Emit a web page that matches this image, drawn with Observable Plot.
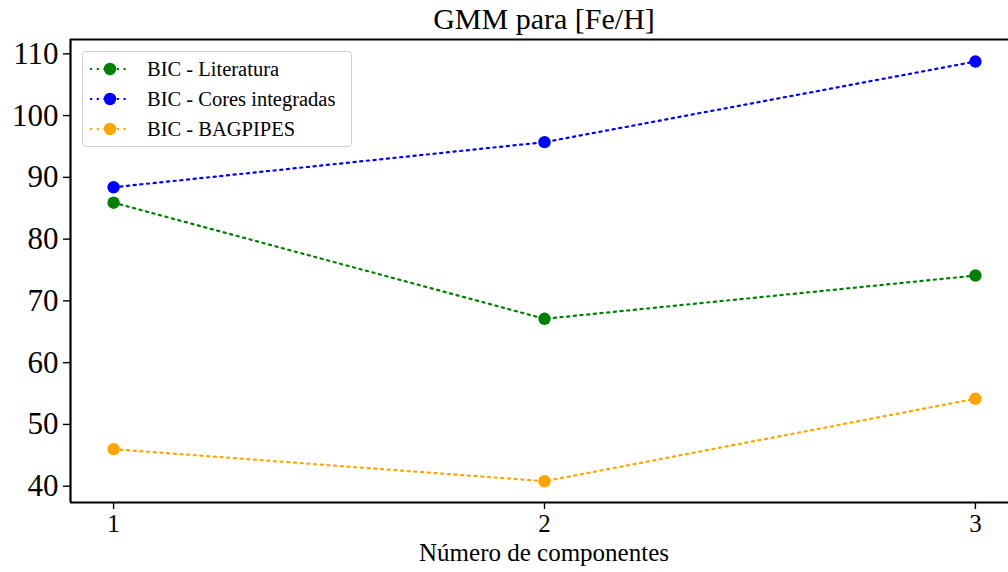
<!DOCTYPE html>
<html><head><meta charset="utf-8">
<script src="https://cdn.jsdelivr.net/npm/d3@7"></script>
<script src="https://cdn.jsdelivr.net/npm/@observablehq/plot@0.6"></script>
<style>
body{margin:0;background:#fff;font-family:"Liberation Serif",serif;color:#000;}
#wrap, #wrap *{font-family:"Liberation Serif",serif !important;}
#wrap svg text{font-family:"Liberation Serif",serif !important;}
#wrap{position:relative;width:1008px;height:572px;overflow:hidden;background:#fff;}
#title{position:absolute;left:70px;width:948px;top:2px;text-align:center;font-size:30px;line-height:34px;}
#chart{position:absolute;left:0;top:37px;}
#xlabel{position:absolute;left:70px;width:948px;top:538px;text-align:center;font-size:25px;line-height:30px;}
#legend{position:absolute;left:82px;top:51px;width:270px;height:96px;border:1px solid #d0d0d0;border-radius:4px;background:rgba(255,255,255,0.8);box-sizing:border-box;padding-top:2px;}
.row{display:flex;align-items:center;height:30px;font-size:20.5px;}
.row svg{margin-left:6px;margin-right:16px;}
</style>
</head><body>
<div id="wrap">
  <div id="title">GMM para [Fe/H]</div>
  <div id="chart"></div>
  <div id="xlabel">Número de componentes</div>
  <div id="legend"></div>
</div>
<script>
const components = [1, 2, 3];
const bicLiteratura = [85.9, 67.1, 74.1];
const bicCoresIntegradas = [88.4, 95.7, 108.75];
const bicBagpipes = [46.0, 40.8, 54.15];
const seriesNames = ["BIC - Literatura", "BIC - Cores integradas", "BIC - BAGPIPES"];
const seriesColors = ["green", "blue", "orange"];
const yTicks = [40, 50, 60, 70, 80, 90, 100, 110];
const xTicks = [1, 2, 3];
const xDomain = [0.9, 3.1];
const yDomain = [37.36, 112.32];

const seriesValues = [bicLiteratura, bicCoresIntegradas, bicBagpipes];
const data = [];
seriesNames.forEach((s, i) => components.forEach((c, j) => data.push({series: s, x: c, y: seriesValues[i][j]})));

const chart = Plot.plot({
  width: 1008, height: 535,
  marginTop: 2, marginBottom: 70, marginLeft: 70, marginRight: 0,
  style: {fontFamily: "Liberation Serif, serif", background: "white", color: "black"},
  x: {domain: xDomain, range: [70, 1018]},
  y: {domain: yDomain},
  color: {domain: seriesNames, range: seriesColors},
  marks: [
    Plot.line(data, {x: "x", y: "y", z: "series", stroke: "series", strokeWidth: 2.2, strokeDasharray: "2.2,4.5"}),
    Plot.dot(data, {x: "x", y: "y", fill: "series", r: 6.2}),
    Plot.ruleX([xDomain[0]], {strokeWidth: 2.2}),
    Plot.ruleY(yDomain, {strokeWidth: 2.2}),
    Plot.axisY({ticks: yTicks, tickSize: 7, tickPadding: 5, fontSize: 31, label: null, strokeWidth: 1.4}),
    Plot.axisX({ticks: xTicks, tickSize: 7, tickPadding: 5, fontSize: 25, label: null, tickFormat: d3.format("d"), strokeWidth: 1.4})
  ]
});
document.getElementById("chart").appendChild(chart);

const legend = document.getElementById("legend");
seriesNames.forEach((s, i) => {
  const row = document.createElement("div");
  row.className = "row";
  row.innerHTML = `<svg width="42" height="14"><line x1="1" y1="7" x2="41" y2="7" stroke="${seriesColors[i]}" stroke-width="2.2" stroke-dasharray="2.2,4.5"/><circle cx="21" cy="7" r="6.2" fill="${seriesColors[i]}"/></svg><span>${s}</span>`;
  legend.appendChild(row);
});
</script>
</body></html>
